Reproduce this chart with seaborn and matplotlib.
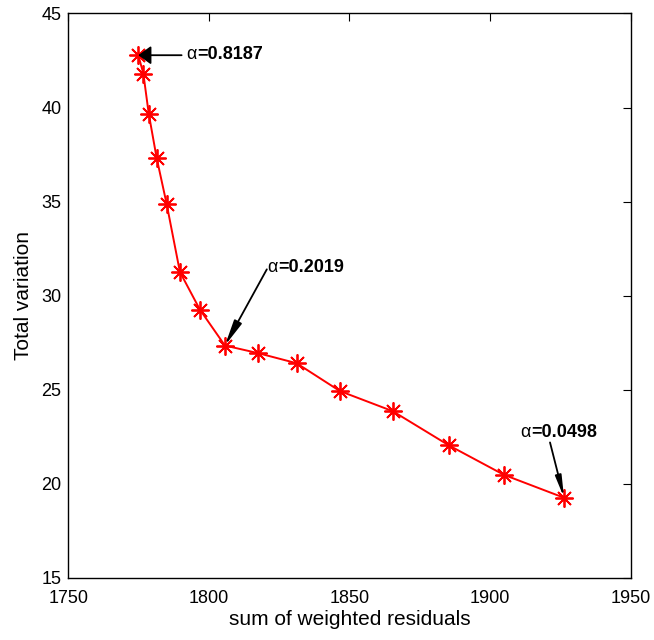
import matplotlib
matplotlib.use("Agg")
import matplotlib.pyplot as plt
import seaborn as sns
import pandas as pd

# L-curve points
residuals = [1774.9, 1776.7, 1778.6, 1781.4, 1785.0, 1789.7, 1796.8, 1805.7,
             1817.4, 1831.2, 1846.6, 1865.4, 1885.4, 1904.9, 1926.3]
tv = [42.78, 41.8, 39.68, 37.34, 34.86, 31.26, 29.26, 27.35,
      26.95, 26.41, 24.93, 23.86, 22.04, 20.48, 19.26]

# annotations: label, index of point, text position, arrow tail (data)
ann_labels = ["0.8187", "0.2019", "0.0498"]
ann_index = [0, 7, 14]
ann_text_pos = [(1792.1, 42.8), (1820.9, 31.5), (1910.6, 22.75)]
ann_tail = [(1790.3, 42.78), (1820.6, 31.4), (1921.3, 22.2)]

xticks = [1750, 1800, 1850, 1900, 1950]
yticks = [15, 20, 25, 30, 35, 40, 45]

sns.set_style("white")
plt.rcParams["font.family"] = ["Liberation Sans", "DejaVu Sans"]
plt.rcParams["text.color"] = "black"
plt.rcParams["axes.labelcolor"] = "black"

df = pd.DataFrame({"res": residuals, "tv": tv})

fig = plt.figure(figsize=(6.54, 6.4), dpi=100)
ax = fig.add_axes([0.1044, 0.097, 0.86, 0.882])

sns.lineplot(data=df, x="res", y="tv", sort=False, color="red", lw=1.4,
             marker=(8, 2, 0), markersize=13, markeredgecolor="red",
             markeredgewidth=1.3, ax=ax)

heads = ["-|>,head_length=0.55,head_width=0.4",
         "-|>,head_length=1.1,head_width=0.18",
         "-|>,head_length=0.9,head_width=0.13"]
for lab, i, (tx, ty), tail, hs in zip(ann_labels, ann_index, ann_text_pos,
                                      ann_tail, heads):
    ax.annotate("", xy=(residuals[i], tv[i]), xytext=tail,
                arrowprops=dict(arrowstyle=hs, color="black", lw=1.3,
                                mutation_scale=14, shrinkA=0, shrinkB=0))
    ax.text(tx, ty, "α", fontsize=13, va="center", ha="left")
    ax.annotate("=" + lab, xy=(tx, ty), xytext=(7.8, 0), textcoords="offset points",
                fontsize=13, fontweight="bold", va="center", ha="left")

ax.set_xlim(1750, 1950)
ax.set_ylim(15, 45)
ax.set_xticks(xticks)
ax.set_yticks(yticks)
ax.set_xlabel("sum of weighted residuals", fontsize=15, labelpad=2)
ax.set_ylabel("Total variation", fontsize=15, labelpad=6)
ax.tick_params(direction="in", length=6, width=0.8, labelsize=13,
               top=True, right=True, colors="black")
ax.tick_params(axis="x", pad=9)
ax.tick_params(axis="y", pad=5)
for s in ax.spines.values():
    s.set_visible(True)
    s.set_color("black")
    s.set_linewidth(1.0)

fig.savefig("out.png", dpi=100)
